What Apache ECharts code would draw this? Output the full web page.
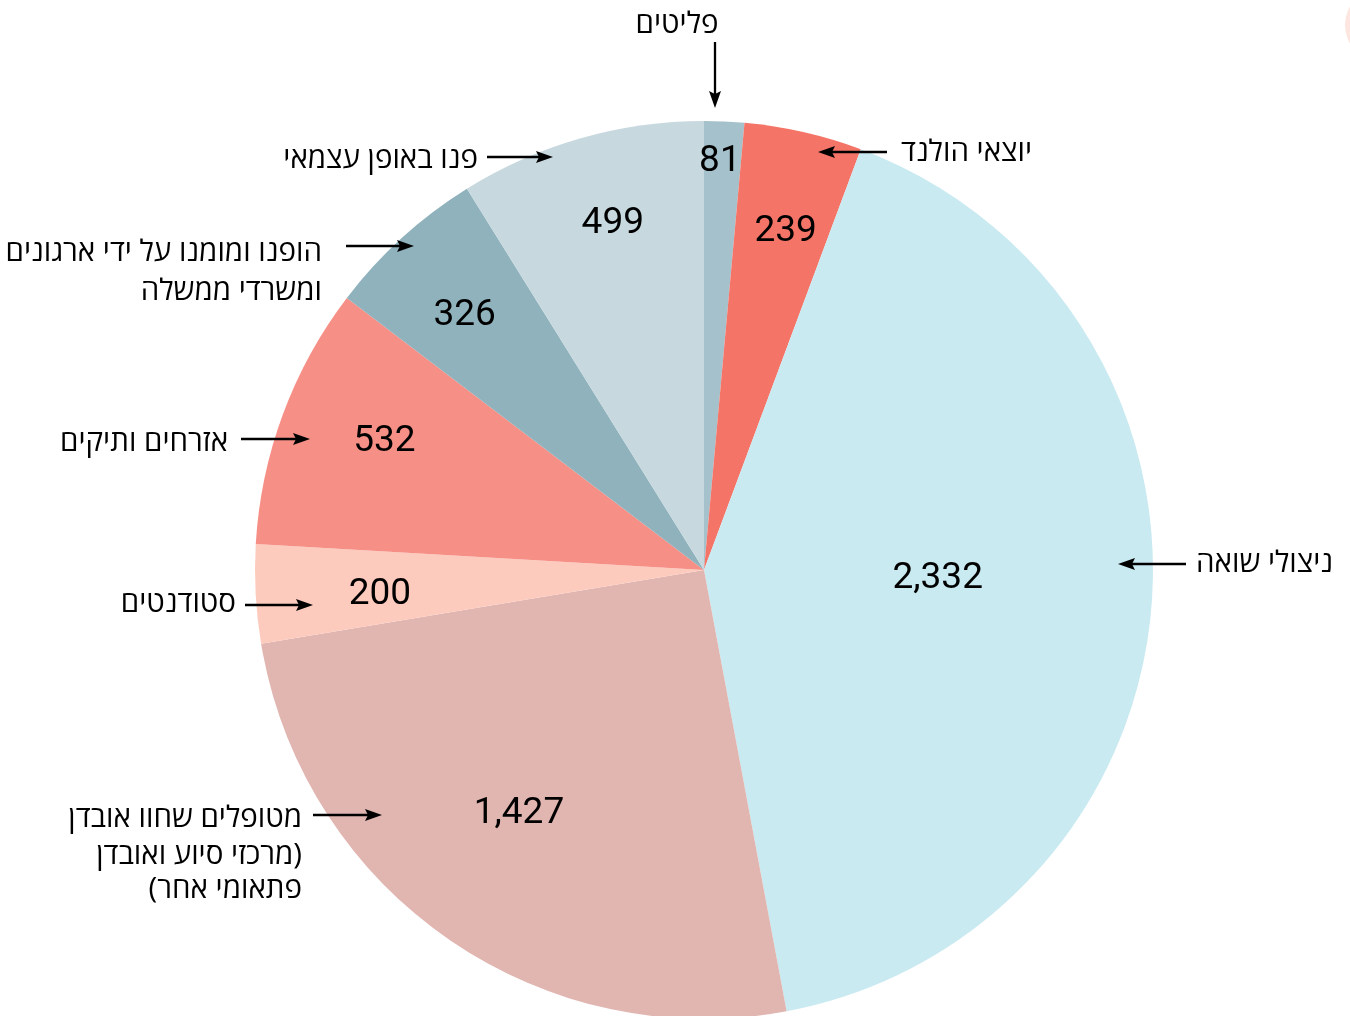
<!DOCTYPE html>
<html>
<head>
<meta charset="utf-8">
<script src="https://cdn.jsdelivr.net/npm/echarts@6/dist/echarts.min.js"></script>
<style>
html,body{margin:0;padding:0;background:#fff;}
#main{width:1350px;height:1016px;}
</style>
</head>
<body>
<div id="main"></div>
<script>
// ---- data ----
const categories = ['פליטים','יוצאי הולנד','ניצולי שואה','מטופלים שחוו אובדן','סטודנטים','אזרחים ותיקים','הופנו ומומנו על ידי ארגונים ומשרדי ממשלה','פנו באופן עצמאי'];
const values = [81, 239, 2332, 1427, 200, 532, 326, 499];
const colors = ['#a5c1cb','#f47568','#c9eaf1','#e1b5b0','#fdcbbd','#f68f86','#8fb2bd','#c7d9df'];
// label placement styles: radial fraction of radius, plus a small pixel nudge
const labelRadius = [0.92, 0.78, 0.52, 0.675, 0.72, 0.77, 0.785, 0.81];
const labelNudge = [[-3,10],[3,8],[-2,-12],[-9,-8],[3,7],[9,-7],[1,10],[10,8]];

const chart = echarts.init(document.getElementById('main'), null, {renderer:'canvas'});
const W = 1350, H = 1016;
const CX = 704, CY = 570, R = 449;

const HEB = '"Open Sans", "DejaVu Sans", sans-serif';
const NUM = 'Roboto, "Open Sans", sans-serif';
const RLM = '\u200F';

function arrow(x1, y1, x2, y2) {
  const ang = Math.atan2(y2 - y1, x2 - x1);
  const L = 17, Wd = 6;
  const c = Math.cos(ang), s = Math.sin(ang);
  const bx = x2 - L * c, by = y2 - L * s;
  const px = -s, py = c;
  return [
    {type:'line', shape:{x1:x1, y1:y1, x2:bx + 3*c, y2:by + 3*s}, style:{stroke:'#000', lineWidth:2.3}, z:10},
    {type:'polygon', shape:{points:[[x2,y2],[bx+px*Wd, by+py*Wd],[bx+3*c, by+3*s],[bx-px*Wd, by-py*Wd]]}, style:{fill:'#000'}, z:10}
  ];
}
function txt(x, y, s, align) {
  return {type:'text', x:x, y:y + 3, z:10, style:{text:s, font:'29.5px ' + HEB, fill:'#000', textAlign:align || 'right', textVerticalAlign:'middle'}};
}

const graphics = [
  {type:'circle', shape:{cx:1382, cy:25, r:37}, style:{fill:'#fde6df'}, z:1},
  txt(677, 22, categories[0], 'center'),
  ...arrow(715, 42, 715, 108),
  txt(1032, 150, categories[1]),
  ...arrow(887, 152, 818, 152),
  txt(1333, 561, categories[2]),
  ...arrow(1186, 564, 1118, 564),
  txt(302, 816, categories[3]),
  txt(302, 853, RLM + '(מרכזי סיוע ואובדן'),
  txt(302, 887, 'פתאומי אחר)' + RLM),
  ...arrow(313, 815, 382, 815),
  txt(236, 601, categories[4]),
  ...arrow(245, 605, 313, 605),
  txt(228, 440, categories[5]),
  ...arrow(241, 439, 310, 439),
  txt(322, 250, 'הופנו ומומנו על ידי ארגונים'),
  txt(322, 289, 'ומשרדי ממשלה'),
  ...arrow(346, 246, 414, 246),
  txt(478, 157, categories[7]),
  ...arrow(487, 157, 553, 157)
];

chart.setOption({
  animation: false,
  backgroundColor: '#fff',
  graphic: graphics,
  series: [{
    type: 'pie',
    center: [CX / W * 100 + '%', CY / H * 100 + '%'],
    radius: [0, R],
    startAngle: 90,
    clockwise: true,
    avoidLabelOverlap: false,
    minShowLabelAngle: 0,
    itemStyle: {borderWidth: 0},
    emphasis: {disabled: true},
    label: {
      show: true,
      position: 'inside',
      color: '#000',
      fontFamily: NUM,
      fontSize: 37,
      formatter: p => p.value.toLocaleString('en-US')
    },
    labelLine: {show: false},
    labelLayout: function (p) {
      const f = labelRadius[p.dataIndex];
      const n = labelNudge[p.dataIndex];
      const r = p.labelRect;
      const lx = r.x + r.width / 2, ly = r.y + r.height / 2;
      const k = f / 0.5 - 1;
      return {dx: k * (lx - CX) + n[0], dy: k * (ly - CY) + n[1]};
    },
    data: categories.map((c, i) => ({name: c, value: values[i], itemStyle: {color: colors[i]}}))
  }]
});
</script>
</body>
</html>
